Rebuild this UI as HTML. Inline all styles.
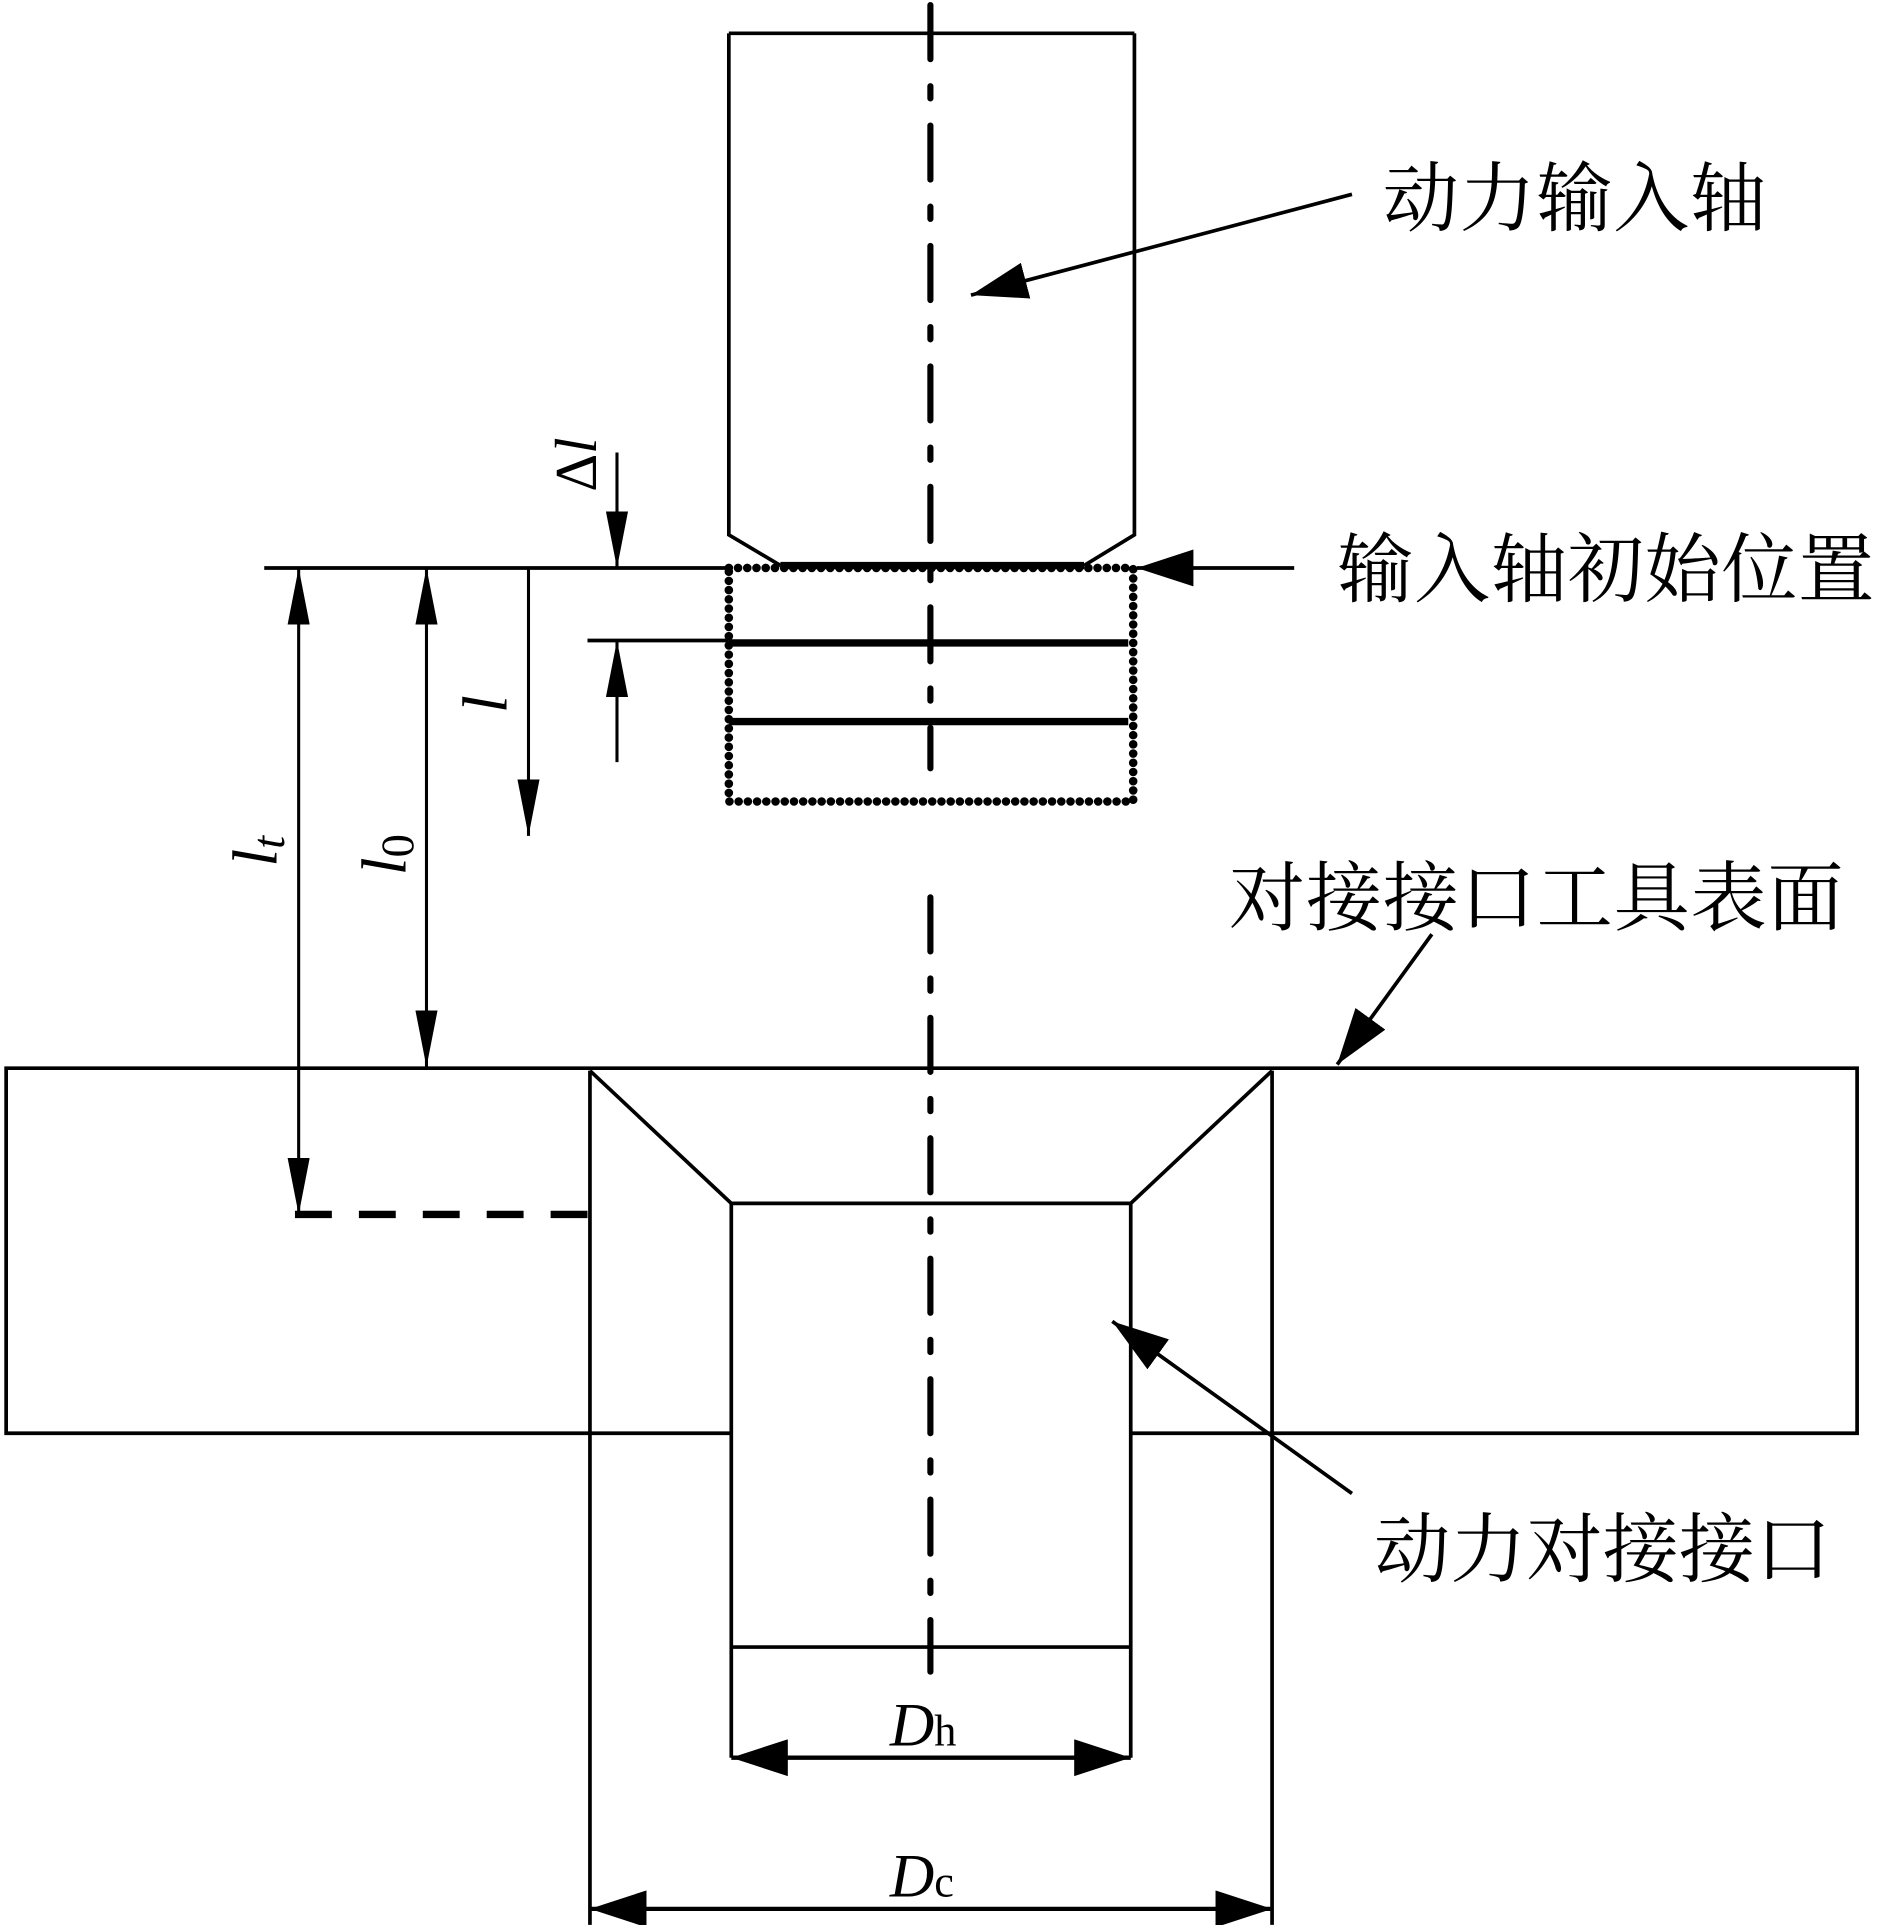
<!DOCTYPE html>
<html><head><meta charset="utf-8"><style>html,body{margin:0;padding:0;background:#fff}svg{display:block}</style></head>
<body>
<svg width="1878" height="1925" viewBox="0 0 1528 1566" xmlns="http://www.w3.org/2000/svg">
<defs>
<marker id="a" viewBox="0 0 46 18" refX="46" refY="9" markerWidth="46" markerHeight="18" markerUnits="userSpaceOnUse" orient="auto-start-reverse"><path d="M0,0 L46,9 L0,18 Z" fill="#000"/></marker>
<marker id="b" viewBox="0 0 46 30" refX="46" refY="15" markerWidth="46" markerHeight="30" markerUnits="userSpaceOnUse" orient="auto-start-reverse"><path d="M0,0 L46,15 L0,30 Z" fill="#000"/></marker>
</defs>
<g fill="none" stroke="#000" stroke-width="3">
<path d="M593,27 L923,27 M593,27 L593,435 L635,460 M923,27 L923,435 L882,460"/>
<path d="M920,1166 L1511,1166 L1511,869 L5,869 L5,1166 L595,1166"/>
<path d="M480,871 L595,979 L920,979 L1035,871"/>
<path d="M595,979 L595,1430 M920,979 L920,1430 M595,1340 L920,1340"/>
<path d="M480,871 L480,1566 M1035,871 L1035,1566"/>
<path d="M215,462 L593,462 M478,521 L593,521"/>
<line x1="243" y1="462" x2="243" y2="988" stroke-width="2.5" marker-start="url(#a)" marker-end="url(#a)"/>
<line x1="347" y1="462" x2="347" y2="868" stroke-width="2.5" marker-start="url(#a)" marker-end="url(#a)"/>
<line x1="430" y1="462" x2="430" y2="680" stroke-width="2.5" marker-end="url(#a)"/>
<line x1="502" y1="368" x2="502" y2="462" stroke-width="2.5" marker-end="url(#a)"/>
<line x1="502" y1="620" x2="502" y2="521" stroke-width="2.5" marker-end="url(#a)"/>
<line x1="240" y1="988" x2="480" y2="988" stroke-width="6" stroke-dasharray="30,22"/>
<line x1="595" y1="1430" x2="920" y2="1430" stroke-width="3.5" marker-start="url(#b)" marker-end="url(#b)"/>
<line x1="480" y1="1553" x2="1035" y2="1553" stroke-width="3.5" marker-start="url(#b)" marker-end="url(#b)"/>
<rect x="593" y="462" width="329" height="190" stroke-width="7" stroke-linecap="round" stroke-dasharray="0,7.5"/>
<path d="M635,460 L882,460 M593,523 L918,523 M593,587 L918,587" stroke-width="6"/>
<path d="M757,4 L757,625 M757,730 L757,1360" stroke-width="5" stroke-linecap="round" stroke-dasharray="44,22,10,22"/>
<line x1="1100" y1="158" x2="790" y2="240" stroke-width="3" marker-end="url(#b)"/>
<line x1="1053" y1="462" x2="925" y2="462" stroke-width="3" marker-end="url(#b)"/>
<line x1="1165" y1="760" x2="1088" y2="866" stroke-width="3" marker-end="url(#b)"/>
<line x1="1100" y1="1215" x2="905" y2="1075" stroke-width="3" marker-end="url(#b)"/>
</g>
<g font-family="'Liberation Serif', 'Noto Serif CJK SC', serif" fill="#000">
<text x="1125" y="183" font-size="62" textLength="312">动力输入轴</text>
<text x="1088" y="485" font-size="62" textLength="437">输入轴初始位置</text>
<text x="1000" y="752" font-size="62" textLength="500">对接接口工具表面</text>
<text x="1118" y="1282" font-size="62" textLength="372">动力对接接口</text>
<text x="724" y="1420" font-size="50" font-style="italic">D<tspan font-style="normal" font-size="36">h</tspan></text>
<text x="724" y="1543" font-size="50" font-style="italic">D<tspan font-style="normal" font-size="36">c</tspan></text>
<text transform="translate(485,400) rotate(-90)" font-size="48" font-style="italic"><tspan font-style="normal">Δ</tspan>l</text>
<text transform="translate(412,580) rotate(-90)" font-size="52" font-style="italic">l</text>
<text transform="translate(225,705) rotate(-90)" font-size="52" font-style="italic">l<tspan font-size="38" dy="6">t</tspan></text>
<text transform="translate(330,712) rotate(-90)" font-size="52" font-style="italic">l<tspan font-style="normal" font-size="38" dy="6">0</tspan></text>
</g>
</svg>
</body></html>
